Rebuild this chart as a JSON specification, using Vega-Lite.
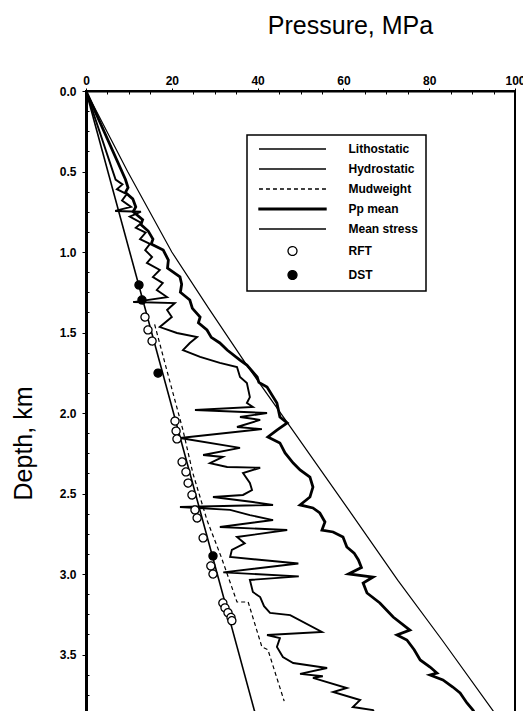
{
  "$schema": "https://vega.github.io/schema/vega-lite/v6.json",
  "width": 429,
  "height": 644,
  "autosize": {"type": "none"},
  "padding": {"left": 86, "top": 91, "right": 10, "bottom": 0},
  "background": "white",
  "config": {
    "view": {"stroke": "black", "strokeWidth": 2},
    "font": "Liberation Sans",
    "axis": {"domainColor": "black", "tickColor": "black", "labelColor": "black", "titleColor": "black", "grid": false, "labelFont": "Liberation Sans", "titleFont": "Liberation Sans"},
    "legend": {"strokeWidth": 1.5}
  },
  "datasets": {
    "lines": [
      {"s": "Lith", "i": 0, "d": 0, "p": 0},
      {"s": "Lith", "i": 1, "d": 0.5, "p": 9.7},
      {"s": "Lith", "i": 2, "d": 1.0, "p": 20.0},
      {"s": "Lith", "i": 3, "d": 1.35, "p": 28.6},
      {"s": "Lith", "i": 4, "d": 1.7, "p": 37.4},
      {"s": "Lith", "i": 5, "d": 2.1, "p": 48.0},
      {"s": "Lith", "i": 6, "d": 2.6, "p": 61.2},
      {"s": "Lith", "i": 7, "d": 3.04, "p": 72.7},
      {"s": "Lith", "i": 8, "d": 3.41, "p": 83.0},
      {"s": "Lith", "i": 9, "d": 3.85, "p": 94.9},
      {"s": "Lith", "i": 10, "d": 4.0, "p": 98.9},
      {"s": "Hyd", "i": 0, "d": 0, "p": 0},
      {"s": "Hyd", "i": 1, "d": 4.0, "p": 40.8},
      {"s": "Mud", "i": 0, "d": 1.45, "p": 16.0},
      {"s": "Mud", "i": 1, "d": 1.75, "p": 19.0},
      {"s": "Mud", "i": 2, "d": 2.106, "p": 22.6},
      {"s": "Mud", "i": 3, "d": 2.373, "p": 24.9},
      {"s": "Mud", "i": 4, "d": 2.665, "p": 28.2},
      {"s": "Mud", "i": 5, "d": 2.9, "p": 31.6},
      {"s": "Mud", "i": 6, "d": 3.174, "p": 35.2},
      {"s": "Mud", "i": 7, "d": 3.174, "p": 37.8},
      {"s": "Mud", "i": 8, "d": 3.453, "p": 41.0},
      {"s": "Mud", "i": 9, "d": 3.47, "p": 42.4},
      {"s": "Mud", "i": 10, "d": 3.79, "p": 46.2},
      {"s": "Pp", "i": 0, "d": 0, "p": 0},
      {"s": "Pp", "i": 1, "d": 0.55, "p": 9.2},
      {"s": "Pp", "i": 2, "d": 0.6, "p": 9.8},
      {"s": "Pp", "i": 3, "d": 0.63, "p": 9.2},
      {"s": "Pp", "i": 4, "d": 0.67, "p": 10.9},
      {"s": "Pp", "i": 5, "d": 0.72, "p": 11.6},
      {"s": "Pp", "i": 6, "d": 0.75, "p": 11.0},
      {"s": "Pp", "i": 7, "d": 0.8, "p": 13.2},
      {"s": "Pp", "i": 8, "d": 0.83, "p": 12.8},
      {"s": "Pp", "i": 9, "d": 0.87, "p": 14.5},
      {"s": "Pp", "i": 10, "d": 0.92, "p": 15.6},
      {"s": "Pp", "i": 11, "d": 0.95, "p": 15.2},
      {"s": "Pp", "i": 12, "d": 0.988, "p": 18.0},
      {"s": "Pp", "i": 13, "d": 1.05, "p": 19.2},
      {"s": "Pp", "i": 14, "d": 1.1, "p": 19.0},
      {"s": "Pp", "i": 15, "d": 1.155, "p": 21.9},
      {"s": "Pp", "i": 16, "d": 1.2, "p": 22.3},
      {"s": "Pp", "i": 17, "d": 1.25, "p": 22.0},
      {"s": "Pp", "i": 18, "d": 1.298, "p": 24.2},
      {"s": "Pp", "i": 19, "d": 1.35, "p": 24.8},
      {"s": "Pp", "i": 20, "d": 1.404, "p": 26.6},
      {"s": "Pp", "i": 21, "d": 1.44, "p": 26.2},
      {"s": "Pp", "i": 22, "d": 1.484, "p": 28.2},
      {"s": "Pp", "i": 23, "d": 1.53, "p": 29.2},
      {"s": "Pp", "i": 24, "d": 1.565, "p": 31.2},
      {"s": "Pp", "i": 25, "d": 1.609, "p": 32.9},
      {"s": "Pp", "i": 26, "d": 1.671, "p": 35.9},
      {"s": "Pp", "i": 27, "d": 1.702, "p": 37.5},
      {"s": "Pp", "i": 28, "d": 1.776, "p": 39.9},
      {"s": "Pp", "i": 29, "d": 1.81, "p": 40.3},
      {"s": "Pp", "i": 30, "d": 1.839, "p": 42.2},
      {"s": "Pp", "i": 31, "d": 1.938, "p": 44.5},
      {"s": "Pp", "i": 32, "d": 2.025, "p": 45.2},
      {"s": "Pp", "i": 33, "d": 2.062, "p": 46.9},
      {"s": "Pp", "i": 34, "d": 2.106, "p": 44.5},
      {"s": "Pp", "i": 35, "d": 2.149, "p": 42.4},
      {"s": "Pp", "i": 36, "d": 2.186, "p": 45.2},
      {"s": "Pp", "i": 37, "d": 2.248, "p": 46.4},
      {"s": "Pp", "i": 38, "d": 2.311, "p": 48.3},
      {"s": "Pp", "i": 39, "d": 2.354, "p": 49.9},
      {"s": "Pp", "i": 40, "d": 2.398, "p": 52.2},
      {"s": "Pp", "i": 41, "d": 2.46, "p": 52.9},
      {"s": "Pp", "i": 42, "d": 2.522, "p": 52.2},
      {"s": "Pp", "i": 43, "d": 2.571, "p": 49.9},
      {"s": "Pp", "i": 44, "d": 2.59, "p": 52.9},
      {"s": "Pp", "i": 45, "d": 2.621, "p": 54.5},
      {"s": "Pp", "i": 46, "d": 2.677, "p": 55.7},
      {"s": "Pp", "i": 47, "d": 2.727, "p": 55.0},
      {"s": "Pp", "i": 48, "d": 2.739, "p": 57.6},
      {"s": "Pp", "i": 49, "d": 2.77, "p": 59.9},
      {"s": "Pp", "i": 50, "d": 2.832, "p": 60.8},
      {"s": "Pp", "i": 51, "d": 2.87, "p": 62.5},
      {"s": "Pp", "i": 52, "d": 2.913, "p": 63.5},
      {"s": "Pp", "i": 53, "d": 2.96, "p": 64.2},
      {"s": "Pp", "i": 54, "d": 3.0, "p": 61.2},
      {"s": "Pp", "i": 55, "d": 3.019, "p": 66.9},
      {"s": "Pp", "i": 56, "d": 3.056, "p": 64.6},
      {"s": "Pp", "i": 57, "d": 3.118, "p": 65.5},
      {"s": "Pp", "i": 58, "d": 3.18, "p": 68.5},
      {"s": "Pp", "i": 59, "d": 3.267, "p": 71.6},
      {"s": "Pp", "i": 60, "d": 3.348, "p": 75.5},
      {"s": "Pp", "i": 61, "d": 3.379, "p": 72.5},
      {"s": "Pp", "i": 62, "d": 3.41, "p": 74.8},
      {"s": "Pp", "i": 63, "d": 3.47, "p": 76.5},
      {"s": "Pp", "i": 64, "d": 3.534, "p": 77.9},
      {"s": "Pp", "i": 65, "d": 3.578, "p": 80.2},
      {"s": "Pp", "i": 66, "d": 3.615, "p": 81.8},
      {"s": "Pp", "i": 67, "d": 3.627, "p": 80.2},
      {"s": "Pp", "i": 68, "d": 3.658, "p": 83.2},
      {"s": "Pp", "i": 69, "d": 3.702, "p": 85.5},
      {"s": "Pp", "i": 70, "d": 3.739, "p": 87.2},
      {"s": "Pp", "i": 71, "d": 3.801, "p": 88.8},
      {"s": "Pp", "i": 72, "d": 3.845, "p": 90.2},
      {"s": "Pp", "i": 73, "d": 3.9, "p": 91.5},
      {"s": "Pp", "i": 74, "d": 4.0, "p": 94.0},
      {"s": "Ms", "i": 0, "d": 0, "p": 0},
      {"s": "Ms", "i": 1, "d": 0.55, "p": 6.9},
      {"s": "Ms", "i": 2, "d": 0.58, "p": 8.5},
      {"s": "Ms", "i": 3, "d": 0.61, "p": 7.2},
      {"s": "Ms", "i": 4, "d": 0.64, "p": 9.5},
      {"s": "Ms", "i": 5, "d": 0.68, "p": 8.4},
      {"s": "Ms", "i": 6, "d": 0.72, "p": 10.5},
      {"s": "Ms", "i": 7, "d": 0.745, "p": 6.8},
      {"s": "Ms", "i": 8, "d": 0.75, "p": 12.8},
      {"s": "Ms", "i": 9, "d": 0.78, "p": 10.2},
      {"s": "Ms", "i": 10, "d": 0.82, "p": 12.9},
      {"s": "Ms", "i": 11, "d": 0.85, "p": 11.6},
      {"s": "Ms", "i": 12, "d": 0.88, "p": 13.9},
      {"s": "Ms", "i": 13, "d": 0.92, "p": 12.6},
      {"s": "Ms", "i": 14, "d": 0.95, "p": 14.9},
      {"s": "Ms", "i": 15, "d": 0.988, "p": 13.8},
      {"s": "Ms", "i": 16, "d": 1.031, "p": 15.4},
      {"s": "Ms", "i": 17, "d": 1.068, "p": 14.2},
      {"s": "Ms", "i": 18, "d": 1.112, "p": 17.2},
      {"s": "Ms", "i": 19, "d": 1.155, "p": 15.6},
      {"s": "Ms", "i": 20, "d": 1.193, "p": 17.9},
      {"s": "Ms", "i": 21, "d": 1.236, "p": 16.5},
      {"s": "Ms", "i": 22, "d": 1.28, "p": 18.9},
      {"s": "Ms", "i": 23, "d": 1.311, "p": 11.0},
      {"s": "Ms", "i": 24, "d": 1.317, "p": 20.7},
      {"s": "Ms", "i": 25, "d": 1.36, "p": 18.9},
      {"s": "Ms", "i": 26, "d": 1.404, "p": 20.0},
      {"s": "Ms", "i": 27, "d": 1.466, "p": 17.2},
      {"s": "Ms", "i": 28, "d": 1.503, "p": 21.2},
      {"s": "Ms", "i": 29, "d": 1.528, "p": 25.9},
      {"s": "Ms", "i": 30, "d": 1.565, "p": 24.2},
      {"s": "Ms", "i": 31, "d": 1.609, "p": 22.6},
      {"s": "Ms", "i": 32, "d": 1.652, "p": 26.6},
      {"s": "Ms", "i": 33, "d": 1.689, "p": 31.2},
      {"s": "Ms", "i": 34, "d": 1.714, "p": 35.2},
      {"s": "Ms", "i": 35, "d": 1.776, "p": 35.9},
      {"s": "Ms", "i": 36, "d": 1.814, "p": 37.5},
      {"s": "Ms", "i": 37, "d": 1.901, "p": 38.2},
      {"s": "Ms", "i": 38, "d": 1.938, "p": 37.5},
      {"s": "Ms", "i": 39, "d": 1.963, "p": 38.9},
      {"s": "Ms", "i": 40, "d": 1.981, "p": 25.4},
      {"s": "Ms", "i": 41, "d": 2.0, "p": 42.2},
      {"s": "Ms", "i": 42, "d": 2.025, "p": 35.9},
      {"s": "Ms", "i": 43, "d": 2.043, "p": 40.6},
      {"s": "Ms", "i": 44, "d": 2.087, "p": 35.2},
      {"s": "Ms", "i": 45, "d": 2.1, "p": 41.0},
      {"s": "Ms", "i": 46, "d": 2.155, "p": 21.9},
      {"s": "Ms", "i": 47, "d": 2.217, "p": 35.9},
      {"s": "Ms", "i": 48, "d": 2.261, "p": 27.3},
      {"s": "Ms", "i": 49, "d": 2.273, "p": 31.9},
      {"s": "Ms", "i": 50, "d": 2.311, "p": 28.9},
      {"s": "Ms", "i": 51, "d": 2.335, "p": 32.9},
      {"s": "Ms", "i": 52, "d": 2.34, "p": 40.6},
      {"s": "Ms", "i": 53, "d": 2.373, "p": 36.6},
      {"s": "Ms", "i": 54, "d": 2.435, "p": 38.2},
      {"s": "Ms", "i": 55, "d": 2.478, "p": 38.7},
      {"s": "Ms", "i": 56, "d": 2.509, "p": 36.6},
      {"s": "Ms", "i": 57, "d": 2.522, "p": 29.6},
      {"s": "Ms", "i": 58, "d": 2.553, "p": 38.9},
      {"s": "Ms", "i": 59, "d": 2.571, "p": 43.6},
      {"s": "Ms", "i": 60, "d": 2.584, "p": 21.9},
      {"s": "Ms", "i": 61, "d": 2.602, "p": 33.6},
      {"s": "Ms", "i": 62, "d": 2.634, "p": 38.2},
      {"s": "Ms", "i": 63, "d": 2.665, "p": 43.6},
      {"s": "Ms", "i": 64, "d": 2.708, "p": 31.2},
      {"s": "Ms", "i": 65, "d": 2.727, "p": 46.9},
      {"s": "Ms", "i": 66, "d": 2.77, "p": 35.2},
      {"s": "Ms", "i": 67, "d": 2.81, "p": 37.0},
      {"s": "Ms", "i": 68, "d": 2.85, "p": 34.0},
      {"s": "Ms", "i": 69, "d": 2.894, "p": 33.6},
      {"s": "Ms", "i": 70, "d": 2.935, "p": 49.5},
      {"s": "Ms", "i": 71, "d": 2.99, "p": 32.0},
      {"s": "Ms", "i": 72, "d": 3.015, "p": 49.6},
      {"s": "Ms", "i": 73, "d": 3.037, "p": 38.2},
      {"s": "Ms", "i": 74, "d": 3.112, "p": 38.9},
      {"s": "Ms", "i": 75, "d": 3.143, "p": 40.6},
      {"s": "Ms", "i": 76, "d": 3.2, "p": 41.5},
      {"s": "Ms", "i": 77, "d": 3.242, "p": 42.9},
      {"s": "Ms", "i": 78, "d": 3.255, "p": 47.6},
      {"s": "Ms", "i": 79, "d": 3.36, "p": 55.0},
      {"s": "Ms", "i": 80, "d": 3.379, "p": 42.2},
      {"s": "Ms", "i": 81, "d": 3.398, "p": 45.2},
      {"s": "Ms", "i": 82, "d": 3.453, "p": 44.5},
      {"s": "Ms", "i": 83, "d": 3.516, "p": 45.9},
      {"s": "Ms", "i": 84, "d": 3.553, "p": 48.3},
      {"s": "Ms", "i": 85, "d": 3.584, "p": 56.2},
      {"s": "Ms", "i": 86, "d": 3.62, "p": 49.9},
      {"s": "Ms", "i": 87, "d": 3.635, "p": 55.2},
      {"s": "Ms", "i": 88, "d": 3.645, "p": 52.9},
      {"s": "Ms", "i": 89, "d": 3.708, "p": 60.8},
      {"s": "Ms", "i": 90, "d": 3.733, "p": 57.6},
      {"s": "Ms", "i": 91, "d": 3.783, "p": 63.9},
      {"s": "Ms", "i": 92, "d": 3.826, "p": 62.2},
      {"s": "Ms", "i": 93, "d": 3.845, "p": 66.9},
      {"s": "Ms", "i": 94, "d": 3.9, "p": 68.0},
      {"s": "Ms", "i": 95, "d": 4.0, "p": 70.0}
    ],
    "pts": [
      {"s": "DST", "d": 1.205, "p": 12.35},
      {"s": "DST", "d": 1.298, "p": 13.05},
      {"s": "DST", "d": 1.752, "p": 16.8},
      {"s": "DST", "d": 2.888, "p": 29.6},
      {"s": "RFT", "d": 1.404, "p": 13.75},
      {"s": "RFT", "d": 1.484, "p": 14.45},
      {"s": "RFT", "d": 1.553, "p": 15.4},
      {"s": "RFT", "d": 2.05, "p": 20.75},
      {"s": "RFT", "d": 2.112, "p": 21.0},
      {"s": "RFT", "d": 2.161, "p": 21.2},
      {"s": "RFT", "d": 2.304, "p": 22.4},
      {"s": "RFT", "d": 2.366, "p": 23.3},
      {"s": "RFT", "d": 2.435, "p": 23.8},
      {"s": "RFT", "d": 2.509, "p": 24.7},
      {"s": "RFT", "d": 2.602, "p": 25.4},
      {"s": "RFT", "d": 2.652, "p": 25.9},
      {"s": "RFT", "d": 2.776, "p": 27.3},
      {"s": "RFT", "d": 2.95, "p": 29.1},
      {"s": "RFT", "d": 3.0, "p": 29.6},
      {"s": "RFT", "d": 3.18, "p": 31.9},
      {"s": "RFT", "d": 3.21, "p": 32.4},
      {"s": "RFT", "d": 3.24, "p": 33.1},
      {"s": "RFT", "d": 3.27, "p": 33.8},
      {"s": "RFT", "d": 3.29, "p": 34.0}
    ]
  },
  "resolve": {"axis": {"x": "independent", "y": "independent"}},
  "layer": [
    {
      "encoding": {
        "x": {
          "field": "p", "type": "quantitative",
          "scale": {"domain": [0, 100], "nice": false, "zero": false},
          "axis": {"orient": "top", "values": [0, 20, 40, 60, 80, 100], "title": "Pressure, MPa", "titleFontSize": 25, "titleFontWeight": "normal", "titleX": 264, "titleY": -53, "labelFontSize": 12, "labelFontWeight": "bold", "labelPadding": 1, "tickSize": 3, "domainWidth": 2, "labelFlush": false}
        },
        "y": {
          "field": "d", "type": "quantitative",
          "scale": {"domain": [0, 4], "nice": false, "zero": false, "reverse": true},
          "axis": {"orient": "left", "values": [0, 0.5, 1, 1.5, 2, 2.5, 3, 3.5], "format": ".1f", "title": "Depth, km", "titleFontSize": 25, "titleFontWeight": "normal", "titleX": -50, "titleY": 352, "labelFontSize": 12, "labelFontWeight": "bold", "labelPadding": 6, "tickSize": 4, "domainWidth": 3, "labelFlush": false}
        }
      },
      "layer": [
        {"data": {"name": "lines"}, "transform": [{"filter": "datum.s === 'Lith'"}], "mark": {"type": "line", "color": "black", "strokeWidth": 1.2}, "encoding": {"order": {"field": "i", "type": "quantitative"}}},
        {"data": {"name": "lines"}, "transform": [{"filter": "datum.s === 'Hyd'"}], "mark": {"type": "line", "color": "black", "strokeWidth": 1.6}, "encoding": {"order": {"field": "i", "type": "quantitative"}}},
        {"data": {"name": "lines"}, "transform": [{"filter": "datum.s === 'Mud'"}], "mark": {"type": "line", "color": "black", "strokeWidth": 1.2, "strokeDash": [4, 3]}, "encoding": {"order": {"field": "i", "type": "quantitative"}}},
        {"data": {"name": "lines"}, "transform": [{"filter": "datum.s === 'Ms'"}], "mark": {"type": "line", "color": "black", "strokeWidth": 1.9}, "encoding": {"order": {"field": "i", "type": "quantitative"}}},
        {"data": {"name": "lines"}, "transform": [{"filter": "datum.s === 'Pp'"}], "mark": {"type": "line", "color": "black", "strokeWidth": 2.8}, "encoding": {"order": {"field": "i", "type": "quantitative"}}},
        {
          "data": {"name": "pts"},
          "mark": {"type": "point", "stroke": "black", "strokeWidth": 1.3, "opacity": 1, "size": 65},
          "encoding": {
            "shape": {"field": "s", "type": "nominal",
              "scale": {"domain": ["Lithostatic", "Hydrostatic", "Mudweight", "Pp mean", "Mean stress", "RFT", "DST"], "range": ["M-7.5,0H7.5", "M-7.5,0H7.5", "M-7.5,0H7.5", "M-7.5,-0.2H7.5V0.2H-7.5Z", "M-7.5,0H7.5", "circle", "circle"]},
              "legend": {"title": null, "orient": "none", "legendX": 161, "legendY": 44, "strokeColor": "black", "fillColor": "white", "padding": 8, "rowPadding": 8, "labelFontSize": 12, "labelFontWeight": "bold", "labelColor": "black", "labelFont": "Liberation Sans", "symbolSize": 80, "symbolOffset": 31.5, "labelOffset": 50, "symbolStrokeColor": "black", "symbolFillColor": "transparent", "symbolStrokeWidth": 1.3}},
            "fill": {"field": "s", "type": "nominal",
              "scale": {"domain": ["Lithostatic", "Hydrostatic", "Mudweight", "Pp mean", "Mean stress", "RFT", "DST"], "range": ["transparent", "transparent", "transparent", "black", "transparent", "white", "black"]},
              "legend": {"title": null, "orient": "none", "legendX": 161, "legendY": 44, "strokeColor": "black", "fillColor": "white", "padding": 8, "rowPadding": 8, "labelFontSize": 12, "labelFontWeight": "bold", "labelColor": "black", "labelFont": "Liberation Sans", "symbolSize": 80, "symbolOffset": 31.5, "labelOffset": 50, "symbolStrokeColor": "black", "symbolFillColor": "transparent", "symbolStrokeWidth": 1.3}},
            "strokeDash": {"field": "s", "type": "nominal",
              "scale": {"domain": ["Lithostatic", "Hydrostatic", "Mudweight", "Pp mean", "Mean stress", "RFT", "DST"], "range": [[1, 0], [1, 0], [4, 3], [1, 0], [1, 0], [1, 0], [1, 0]]},
              "legend": {"title": null, "orient": "none", "legendX": 161, "legendY": 44, "strokeColor": "black", "fillColor": "white", "padding": 8, "rowPadding": 8, "labelFontSize": 12, "labelFontWeight": "bold", "labelColor": "black", "labelFont": "Liberation Sans", "symbolSize": 80, "symbolOffset": 31.5, "labelOffset": 50, "symbolStrokeColor": "black", "symbolFillColor": "transparent", "symbolStrokeWidth": 1.3}}
          }
        }
      ]
    },
    {
      "data": {"name": "pts"},
      "mark": {"type": "point", "opacity": 0},
      "encoding": {
        "x": {"field": "p", "type": "quantitative",
          "axis": {"orient": "top", "values": [5, 10, 15, 25, 30, 35, 45, 50, 55, 65, 70, 75, 85, 90, 95], "labels": false, "tickSize": -3, "domain": false, "title": null, "grid": false}},
        "y": {"field": "d", "type": "quantitative",
          "axis": {"orient": "left", "values": [0.125, 0.25, 0.375, 0.625, 0.75, 0.875, 1.125, 1.25, 1.375, 1.625, 1.75, 1.875, 2.125, 2.25, 2.375, 2.625, 2.75, 2.875, 3.125, 3.25, 3.375, 3.625, 3.75, 3.875], "labels": false, "tickSize": -3, "domain": false, "title": null, "grid": false}}
      }
    }
  ]
}
